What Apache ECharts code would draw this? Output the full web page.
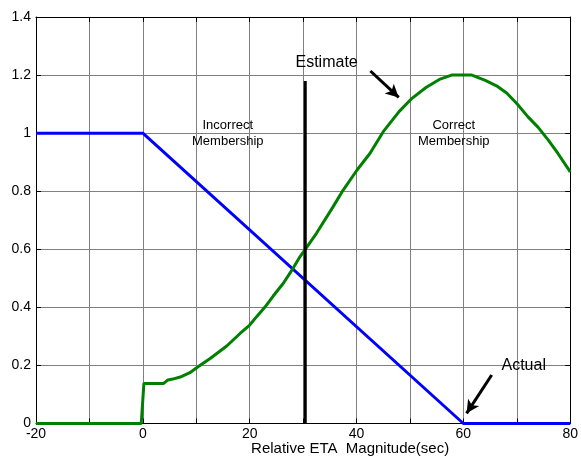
<!DOCTYPE html>
<html><head><meta charset="utf-8">
<script src="https://cdn.jsdelivr.net/npm/echarts@6/dist/echarts.min.js"></script>
<style>html,body{margin:0;padding:0;background:#fff}#c{width:581px;height:459px}</style>
</head><body><div id="c"></div>
<script>
// ---- data ----
const xTickLabels = ['-20','0','20','40','60','80'];
const yTickLabels = ['0','0.2','0.4','0.6','0.8','1','1.2','1.4'];
const incorrectX = [-20, 0, 60, 80];
const incorrectY = [1, 1, 0, 0];
const correctX = [-20,-0.3,0.2,3.9,4.7,5.6,7,8.8,10.4,12.6,15.7,18.2,20,21.3,22.9,24.4,26.3,27.9,29.4,30.4,32.5,35.6,37.5,40.1,42.5,45,48,50.2,53,55.5,57.8,61.6,64.1,66.2,68.1,70,72.1,74,75.9,77.7,79.6,80];
const correctY = [0,0,0.138,0.138,0.15,0.153,0.16,0.175,0.196,0.224,0.267,0.31,0.339,0.368,0.402,0.439,0.483,0.528,0.574,0.6,0.655,0.746,0.804,0.873,0.93,1.005,1.075,1.117,1.157,1.185,1.2,1.2,1.182,1.163,1.138,1.102,1.056,1.02,0.976,0.93,0.878,0.866];
const estimateX = [30.4, 30.4];
const estimateY = [0, 1.18];
// annotations (data coords)
const arrowEstimate = [[42.6, 1.214], [47.9, 1.123]];
const arrowActual = [[65.3, 0.167], [60.6, 0.035]];
const labels = [
  {text: 'Estimate', x: 34.4, y: 1.243, size: 16},
  {text: 'Actual', x: 71.3, y: 0.198, size: 16},
  {text: 'Incorrect\nMembership', x: 15.9, y: 0.998, size: 13},
  {text: 'Correct\nMembership', x: 58.2, y: 1.0, size: 13}
];

const zip = (a, b) => a.map((v, i) => [v, b[i]]);
const FONT = '"Liberation Sans", Arial, sans-serif';
const chart = echarts.init(document.getElementById('c'), null, {renderer: 'canvas'});

const axisCommon = {
  axisLine: {show: true, onZero: false, lineStyle: {color: '#000', width: 1}},
  axisTick: {show: true, inside: true, length: 5, lineStyle: {color: '#000'}},
};
const gridSplit = {show: true, lineStyle: {color: '#808080', width: 1, type: 'solid'}};

const option = {
  animation: false,
  backgroundColor: '#fff',
  grid: {left: 36, right: 8, top: 17, bottom: 35.5, containLabel: false},
  xAxis: [
    Object.assign({
      type: 'value', min: -20, max: 80, interval: 10, position: 'bottom',
      splitLine: gridSplit,
      axisLabel: {
        color: '#000', fontSize: 14, fontFamily: FONT, margin: 4,
        formatter: v => (Math.round(v) % 20 === 0 ? xTickLabels[xTickLabels.indexOf(String(Math.round(v)))] : '')
      }
    }, axisCommon),
    Object.assign({
      type: 'value', min: -20, max: 80, interval: 10, position: 'top',
      splitLine: {show: false}, axisLabel: {show: false}
    }, axisCommon)
  ],
  yAxis: [
    Object.assign({
      type: 'value', min: 0, max: 1.4, interval: 0.2, position: 'left',
      splitLine: gridSplit,
      axisLabel: {
        color: '#000', fontSize: 14, fontFamily: FONT, margin: 5,
        formatter: v => yTickLabels[Math.round(v / 0.2)]
      }
    }, axisCommon),
    Object.assign({
      type: 'value', min: 0, max: 1.4, interval: 0.2, position: 'right',
      splitLine: {show: false}, axisLabel: {show: false}
    }, axisCommon)
  ],
  series: [
    {
      type: 'line', name: 'Incorrect', data: zip(incorrectX, incorrectY),
      symbol: 'none', lineStyle: {color: '#0000ff', width: 3}, z: 3
    },
    {
      type: 'line', name: 'Correct', data: zip(correctX, correctY),
      symbol: 'none', lineStyle: {color: '#008000', width: 3}, z: 4
    },
    {
      type: 'line', name: 'Estimate', data: zip(estimateX, estimateY),
      symbol: 'none', lineStyle: {color: '#000', width: 3}, z: 5,
      markLine: {
        silent: true, symbol: ['none', 'arrow'], symbolSize: [10, 13],
        label: {show: false},
        lineStyle: {color: '#000', width: 3, type: 'solid'},
        data: [
          [{coord: arrowEstimate[0]}, {coord: arrowEstimate[1]}],
          [{coord: arrowActual[0]}, {coord: arrowActual[1]}]
        ]
      }
    }
  ]
};
chart.setOption(option);

const g = labels.map(l => {
  const p = chart.convertToPixel({xAxisIndex: 0, yAxisIndex: 0}, [l.x, l.y]);
  return {
    type: 'text', x: p[0], y: p[1], z: 100,
    style: {text: l.text, fill: '#000', font: l.size + 'px ' + FONT, align: 'center', verticalAlign: 'middle', lineHeight: l.size + 3}
  };
});
const np = chart.convertToPixel({xAxisIndex: 0, yAxisIndex: 0}, [38.8, 0]);
g.push({
  type: 'text', x: np[0], y: np[1] + 25, z: 100,
  style: {text: 'Relative ETA  Magnitude(sec)', fill: '#000', font: '15px ' + FONT, align: 'center', verticalAlign: 'middle'}
});
chart.setOption({graphic: g});
</script>
</body></html>
